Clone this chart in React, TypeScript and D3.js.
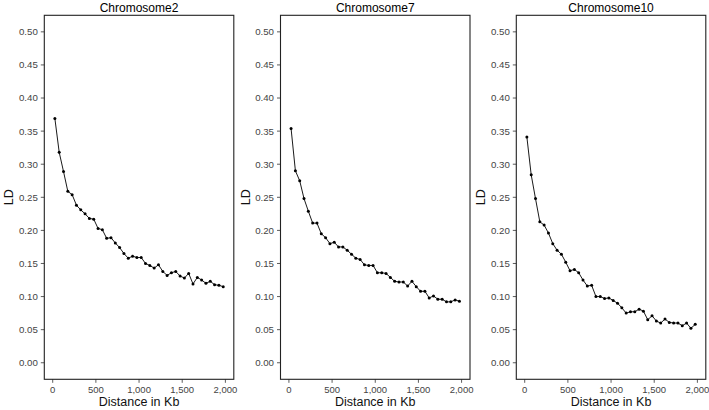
import React from "react";
import * as d3 from "d3";

// distance bins (kb), 50 kb bins centred at 25..1975
const distances = Array.from({ length: 40 }, (_, i) => 25 + i * 50);

const chromosomes = ["Chromosome2", "Chromosome7", "Chromosome10"];

const ldChr2 = [
  0.369, 0.318, 0.289, 0.259, 0.254, 0.238, 0.231, 0.225, 0.218, 0.217,
  0.203, 0.201, 0.188, 0.189, 0.181, 0.174, 0.165, 0.158, 0.161, 0.159,
  0.159, 0.150, 0.147, 0.143, 0.148, 0.138, 0.132, 0.136, 0.138, 0.131,
  0.128, 0.135, 0.119, 0.129, 0.125, 0.120, 0.123, 0.118, 0.117, 0.115,
];

const ldChr7 = [
  0.354, 0.290, 0.275, 0.248, 0.229, 0.211, 0.211, 0.195, 0.189, 0.180,
  0.182, 0.175, 0.175, 0.170, 0.164, 0.158, 0.156, 0.148, 0.147, 0.147,
  0.136, 0.136, 0.135, 0.129, 0.123, 0.122, 0.122, 0.116, 0.123, 0.115,
  0.108, 0.108, 0.098, 0.101, 0.096, 0.096, 0.092, 0.092, 0.095, 0.093,
];

const ldChr10 = [
  0.341, 0.284, 0.248, 0.213, 0.208, 0.196, 0.180, 0.170, 0.164, 0.152,
  0.139, 0.141, 0.136, 0.125, 0.116, 0.117, 0.100, 0.100, 0.097, 0.098,
  0.094, 0.090, 0.083, 0.075, 0.077, 0.077, 0.081, 0.078, 0.065, 0.071,
  0.063, 0.060, 0.066, 0.061, 0.060, 0.060, 0.056, 0.060, 0.052, 0.058,
];

const series = [ldChr2, ldChr7, ldChr10];

const xTicks = [0, 500, 1000, 1500, 2000];
const yTicks = [0, 0.05, 0.1, 0.15, 0.2, 0.25, 0.3, 0.35, 0.4, 0.45, 0.5];

const W = 709;
const H = 410;
const panelLeft = [44.3, 280.5, 516.3];
const panelW = 189.5;
const top = 15.3;
const bottom = 379.3;
const font = "'Liberation Sans', Arial, Helvetica, sans-serif";

function Panel({ idx }: { idx: number }) {
  const left = panelLeft[idx];
  const x = d3.scaleLinear().domain([-97.5, 2097.5]).range([left, left + panelW]);
  const y = d3.scaleLinear().domain([-0.025, 0.525]).range([bottom, top]);
  const vals = series[idx];
  const pts = distances.map((d, i) => [d, vals[i]] as [number, number]);
  const line = d3
    .line<[number, number]>()
    .x((d) => x(d[0]))
    .y((d) => y(d[1]));
  const fmtX = d3.format(",");
  const fmtY = d3.format(".2f");
  const cx = left + panelW / 2;

  return (
    <g>
      <text x={cx} y={11.5} textAnchor="middle" fontSize={12} fill="#000">
        {chromosomes[idx]}
      </text>
      {/* y axis */}
      {yTicks.map((t) => (
        <g key={"y" + t}>
          <line x1={left - 3.5} x2={left} y1={y(t)} y2={y(t)} stroke="#333" strokeWidth={0.8} />
          <text
            x={left - 6.5}
            y={y(t)}
            dy="0.35em"
            textAnchor="end"
            fontSize={9.7}
            fill="#444"
          >
            {fmtY(t)}
          </text>
        </g>
      ))}
      {/* x axis */}
      {xTicks.map((t) => (
        <g key={"x" + t}>
          <line x1={x(t)} x2={x(t)} y1={bottom} y2={bottom + 3.5} stroke="#333" strokeWidth={0.8} />
          <text x={x(t)} y={bottom + 14} textAnchor="middle" fontSize={9.5} fill="#444">
            {fmtX(t)}
          </text>
        </g>
      ))}
      <text
        transform={`translate(${left - 31},${(top + bottom) / 2}) rotate(-90)`}
        textAnchor="middle"
        fontSize={12.5}
        fill="#111"
      >
        LD
      </text>
      <text x={cx} y={406} textAnchor="middle" fontSize={12.5} fill="#111">
        Distance in Kb
      </text>
      <path d={line(pts) ?? ""} fill="none" stroke="#000" strokeWidth={0.9} />
      {pts.map((p, i) => (
        <circle key={i} cx={x(p[0])} cy={y(p[1])} r={1.5} fill="#000" />
      ))}
      <rect
        x={left}
        y={top}
        width={panelW}
        height={bottom - top}
        fill="none"
        stroke="#222"
        strokeWidth={1.1}
      />
    </g>
  );
}

export default function App() {
  return (
    <div style={{ position: "fixed", left: 0, top: 0, width: W, height: H, background: "#fff" }}>
      <svg width={W} height={H} style={{ display: "block", fontFamily: font }}>
        <rect width={W} height={H} fill="#fff" />
        {[0, 1, 2].map((i) => (
          <Panel key={i} idx={i} />
        ))}
      </svg>
    </div>
  );
}
